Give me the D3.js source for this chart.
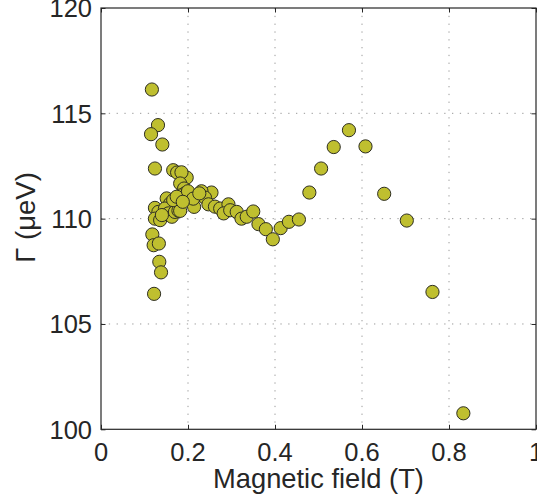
<!DOCTYPE html>
<html>
<head>
<meta charset="utf-8">
<script src="https://cdn.jsdelivr.net/npm/d3@7"></script>
<style>
  html, body { margin: 0; padding: 0; background: #fff; overflow: hidden; }
  text { font-family: "Liberation Sans", Arial, Helvetica, sans-serif; fill: #262626; }
</style>
</head>
<body>
<svg id="chart" width="537" height="502"></svg>
<script>
// Data: magnetic field (T) and linewidth Γ (μeV)
const fieldT = [
  0.117, 0.131, 0.115, 0.141, 0.124, 0.166, 0.175, 0.197, 0.185, 0.182, 0.191,
  0.254, 0.231, 0.220, 0.239, 0.208, 0.193, 0.182, 0.205, 0.214, 0.247, 0.262,
  0.274, 0.293, 0.282, 0.297, 0.312, 0.323, 0.335, 0.350, 0.362, 0.379, 0.395,
  0.413, 0.432, 0.455,
  0.124, 0.132, 0.124, 0.136, 0.151, 0.159, 0.147, 0.155, 0.163, 0.140, 0.170,
  0.178, 0.166, 0.174, 0.182, 0.200, 0.212, 0.226, 0.188,
  0.118, 0.121, 0.133, 0.134, 0.138, 0.122,
  0.479, 0.506, 0.535, 0.570, 0.608, 0.651, 0.703, 0.762, 0.833
];
const gammaUeV = [
  116.13, 114.44, 114.01, 113.52, 112.38, 112.30, 112.19, 111.95, 112.20, 111.67, 111.43,
  111.24, 111.30, 111.10, 111.00, 111.10, 111.20, 111.10, 110.85, 110.56, 110.68, 110.57,
  110.48, 110.68, 110.25, 110.40, 110.32, 110.00, 110.09, 110.34, 109.74, 109.50, 109.02,
  109.55, 109.85, 109.96,
  110.51, 110.32, 110.00, 109.93, 110.96, 110.72, 110.48, 110.25, 110.09, 110.17, 110.32,
  110.38, 110.88, 111.04, 110.37, 111.30, 110.95, 111.20, 110.80,
  109.25, 108.74, 108.82, 107.95, 107.45, 106.43,
  111.24, 112.38, 113.40, 114.20, 113.43, 111.18, 109.91, 106.52, 100.76
];
const xTicks = [0, 0.2, 0.4, 0.6, 0.8, 1];
const xTickLabels = ["0", "0.2", "0.4", "0.6", "0.8", "1"];
const yTicks = [100, 105, 110, 115, 120];
const yTickLabels = ["100", "105", "110", "115", "120"];
const xLabel = "Magnetic field (T)";
const yLabel = "Γ (μeV)";

const svg = d3.select("#chart");
const pL = 101, pR = 536, pT = 8, pB = 429.3;

const x = d3.scaleLinear().domain([0, 1]).range([pL, pR]);
const y = d3.scaleLinear().domain([100, 120]).range([pB, pT]);

// grid
const grid = svg.append("g");
grid.selectAll("line.vg").data(xTicks.slice(1, -1)).enter().append("line")
  .attr("x1", d => x(d)).attr("x2", d => x(d))
  .attr("y1", pT).attr("y2", pB)
  .attr("stroke", "#9a9a9a").attr("stroke-width", 1)
  .attr("stroke-dasharray", "1.3,6.5");
grid.selectAll("line.hg").data(yTicks.slice(1, -1)).enter().append("line")
  .attr("y1", d => y(d)).attr("y2", d => y(d))
  .attr("x1", pL).attr("x2", pR)
  .attr("stroke", "#9a9a9a").attr("stroke-width", 1)
  .attr("stroke-dasharray", "1.3,6.5");

// points
svg.append("g").selectAll("circle").data(fieldT.map((f, i) => [f, gammaUeV[i]]))
  .enter().append("circle")
  .attr("cx", d => x(d[0])).attr("cy", d => y(d[1]))
  .attr("r", 6.6)
  .attr("fill", "#bfbf2f")
  .attr("stroke", "#2e2e22").attr("stroke-width", 1);

// axes with inward ticks
const ax = d3.axisBottom(x).tickValues(xTicks).tickSize(-4.5).tickFormat("");
const ay = d3.axisLeft(y).tickValues(yTicks).tickSize(-4.5).tickFormat("");
const axTop = d3.axisTop(x).tickValues(xTicks).tickSize(-4.5).tickFormat("");
const ayRight = d3.axisRight(y).tickValues(yTicks).tickSize(-4.5).tickFormat("");
function style(g) {
  g.select(".domain").remove();
  g.selectAll("line").attr("stroke", "#262626").attr("stroke-width", 1);
}
svg.append("g").attr("transform", `translate(0,${pB})`).call(ax).call(style);
svg.append("g").attr("transform", `translate(${pL},0)`).call(ay).call(style);
svg.append("g").attr("transform", `translate(0,${pT})`).call(axTop).call(style);
svg.append("g").attr("transform", `translate(${pR},0)`).call(ayRight).call(style);

// box
svg.append("rect").attr("x", pL).attr("y", pT)
  .attr("width", pR - pL).attr("height", pB - pT)
  .attr("fill", "none").attr("stroke", "#262626").attr("stroke-width", 1.2);

// tick labels
svg.append("g").selectAll("text").data(xTicks).enter().append("text")
  .attr("x", d => x(d)).attr("y", 461)
  .attr("text-anchor", "middle").attr("font-size", 25.5)
  .text((d, i) => xTickLabels[i]);
svg.append("g").selectAll("text").data(yTicks).enter().append("text")
  .attr("x", 92).attr("y", d => y(d) + 9.3)
  .attr("text-anchor", "end").attr("font-size", 25.5)
  .text((d, i) => yTickLabels[i]);

// axis labels
svg.append("text").attr("x", (pL + pR) / 2).attr("y", 488)
  .attr("text-anchor", "middle").attr("font-size", 27.3).text(xLabel);
svg.append("text").attr("transform", "translate(35,217.5) rotate(-90)")
  .attr("text-anchor", "middle").attr("font-size", 27.5).text(yLabel);
</script>
</body>
</html>
